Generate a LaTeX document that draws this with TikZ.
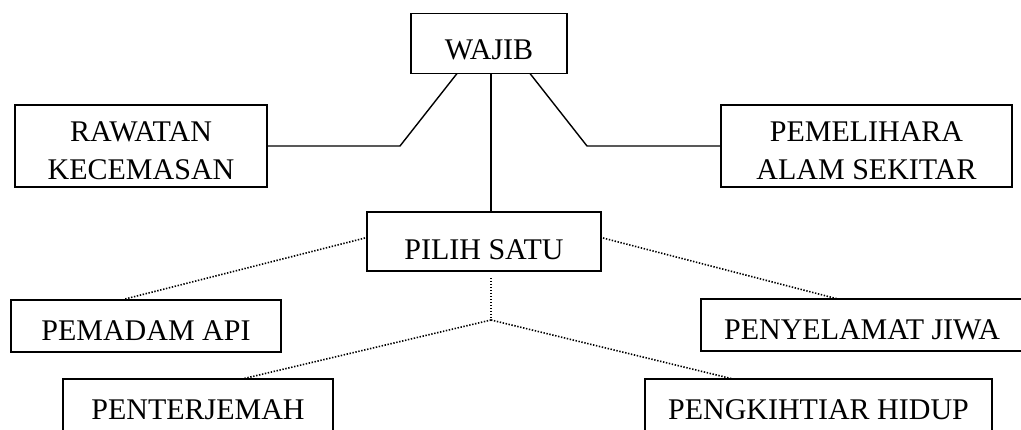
\documentclass[tikz,border=0pt]{standalone}
\usepackage{fontspec}
\setmainfont{Liberation Serif}
\newcommand{\toppad}{\rule{0pt}{30pt}}
\begin{document}
\begin{tikzpicture}[x=1pt, y=-1pt,
    box/.style={draw, line width=1.3pt, inner sep=0pt, align=center,
      font=\fontsize{30}{38}\selectfont},
    oneline/.style={box, text height=28pt, text depth=0pt},
    solidline/.style={line width=1.4pt},
    dotline/.style={line width=1.6pt, dash pattern=on 1.4pt off 1.6pt}]
    \useasboundingbox (0,0) rectangle (1021,429);
    % boxes
    \node[oneline, minimum width=156pt, minimum height=60pt, text height=32pt] (wajib) at (489,43.5) {WAJIB};
    \node[box, minimum width=252pt, minimum height=82pt] (rawatan) at (141,146) {\toppad RAWATAN\\KECEMASAN};
    \node[box, minimum width=291pt, minimum height=82pt] (pemelihara) at (866.5,146) {\toppad PEMELIHARA\\ALAM SEKITAR};
    \node[oneline, minimum width=234pt, minimum height=59pt, text height=36pt] (pilih) at (484,241.5) {PILIH SATU};
    \node[oneline, minimum width=270pt, minimum height=52pt] (pemadam) at (146,326) {PEMADAM API};
    \node[oneline, minimum width=322pt, minimum height=52pt] (penyelamat) at (862,325) {PENYELAMAT JIWA};
    \node[oneline, minimum width=270pt, minimum height=53pt] (penterjemah) at (198,405.5) {PENTERJEMAH};
    \node[oneline, minimum width=347pt, minimum height=53pt] (pengkihtiar) at (818.5,405.5) {PENGKIHTIAR HIDUP};
    % wajib
    \coordinate (wl) at (457,73.5);
    \coordinate (wr) at (530,73.5);
    \coordinate (rkink) at (400,146);
    \coordinate (pkink) at (587,146);
    \draw[solidline] (rawatan.east) -- (rkink) -- (wl);
    \draw[solidline] (wr) -- (pkink) -- (pemelihara.west);
    \draw[solidline] ([xshift=2pt]wajib.south) -- ([xshift=2pt]wajib.south |- pilih.north);
    % pilih satu
    \coordinate (pl) at (365,238);
    \coordinate (pr) at (603,238);
    \coordinate (pa) at (125,299);
    \coordinate (pj) at (838,299);
    \coordinate (ptop) at (491,278);
    \coordinate (fork) at (491,320);
    \coordinate (pt) at (242,379);
    \coordinate (ph) at (733,379);
    \draw[dotline] (pl) -- (pa);
    \draw[dotline] (pr) -- (pj);
    \draw[dotline] (ptop) -- (fork);
    \draw[dotline] (fork) -- (pt);
    \draw[dotline] (fork) -- (ph);
\end{tikzpicture}
\end{document}
